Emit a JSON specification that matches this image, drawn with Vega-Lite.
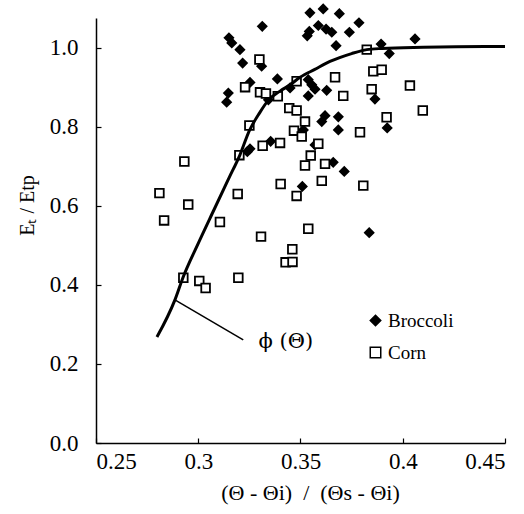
{
  "$schema": "https://vega.github.io/schema/vega-lite/v6.json",
  "width": 409,
  "height": 425,
  "autosize": {"type": "none"},
  "padding": {"left": 96, "top": 18, "right": 19, "bottom": 71},
  "background": "white",
  "config": {
    "view": {"stroke": null},
    "font": "Liberation Serif",
    "legend": {"labelFont": "Liberation Serif"}
  },
  "datasets": {
    "points": [
      {"x": 0.3313, "y": 1.054, "crop": "Broccoli"},
      {"x": 0.3150, "y": 1.025, "crop": "Broccoli"},
      {"x": 0.3164, "y": 1.012, "crop": "Broccoli"},
      {"x": 0.3204, "y": 0.995, "crop": "Broccoli"},
      {"x": 0.3217, "y": 0.961, "crop": "Broccoli"},
      {"x": 0.3310, "y": 0.953, "crop": "Broccoli"},
      {"x": 0.3387, "y": 0.921, "crop": "Broccoli"},
      {"x": 0.3253, "y": 0.912, "crop": "Broccoli"},
      {"x": 0.3147, "y": 0.885, "crop": "Broccoli"},
      {"x": 0.3139, "y": 0.862, "crop": "Broccoli"},
      {"x": 0.3343, "y": 0.868, "crop": "Broccoli"},
      {"x": 0.3449, "y": 0.898, "crop": "Broccoli"},
      {"x": 0.3354, "y": 0.763, "crop": "Broccoli"},
      {"x": 0.3253, "y": 0.744, "crop": "Broccoli"},
      {"x": 0.3240, "y": 0.737, "crop": "Broccoli"},
      {"x": 0.3546, "y": 1.088, "crop": "Broccoli"},
      {"x": 0.3611, "y": 1.098, "crop": "Broccoli"},
      {"x": 0.3690, "y": 1.086, "crop": "Broccoli"},
      {"x": 0.3786, "y": 1.063, "crop": "Broccoli"},
      {"x": 0.3587, "y": 1.056, "crop": "Broccoli"},
      {"x": 0.3543, "y": 1.041, "crop": "Broccoli"},
      {"x": 0.3533, "y": 1.030, "crop": "Broccoli"},
      {"x": 0.3625, "y": 1.047, "crop": "Broccoli"},
      {"x": 0.3653, "y": 1.039, "crop": "Broccoli"},
      {"x": 0.3739, "y": 1.039, "crop": "Broccoli"},
      {"x": 0.3674, "y": 1.005, "crop": "Broccoli"},
      {"x": 0.3894, "y": 1.009, "crop": "Broccoli"},
      {"x": 0.4060, "y": 1.022, "crop": "Broccoli"},
      {"x": 0.3934, "y": 0.985, "crop": "Broccoli"},
      {"x": 0.3538, "y": 0.919, "crop": "Broccoli"},
      {"x": 0.3555, "y": 0.906, "crop": "Broccoli"},
      {"x": 0.3571, "y": 0.895, "crop": "Broccoli"},
      {"x": 0.3628, "y": 0.892, "crop": "Broccoli"},
      {"x": 0.3538, "y": 0.878, "crop": "Broccoli"},
      {"x": 0.3864, "y": 0.870, "crop": "Broccoli"},
      {"x": 0.3620, "y": 0.828, "crop": "Broccoli"},
      {"x": 0.3604, "y": 0.813, "crop": "Broccoli"},
      {"x": 0.3685, "y": 0.825, "crop": "Broccoli"},
      {"x": 0.3514, "y": 0.792, "crop": "Broccoli"},
      {"x": 0.3685, "y": 0.792, "crop": "Broccoli"},
      {"x": 0.3924, "y": 0.797, "crop": "Broccoli"},
      {"x": 0.3571, "y": 0.754, "crop": "Broccoli"},
      {"x": 0.3660, "y": 0.710, "crop": "Broccoli"},
      {"x": 0.3714, "y": 0.687, "crop": "Broccoli"},
      {"x": 0.3509, "y": 0.649, "crop": "Broccoli"},
      {"x": 0.3836, "y": 0.532, "crop": "Broccoli"},
      {"x": 0.3299, "y": 0.970, "crop": "Corn"},
      {"x": 0.3229, "y": 0.900, "crop": "Corn"},
      {"x": 0.3302, "y": 0.887, "crop": "Corn"},
      {"x": 0.3331, "y": 0.884, "crop": "Corn"},
      {"x": 0.3389, "y": 0.877, "crop": "Corn"},
      {"x": 0.3481, "y": 0.915, "crop": "Corn"},
      {"x": 0.3445, "y": 0.847, "crop": "Corn"},
      {"x": 0.3481, "y": 0.841, "crop": "Corn"},
      {"x": 0.3250, "y": 0.803, "crop": "Corn"},
      {"x": 0.3400, "y": 0.759, "crop": "Corn"},
      {"x": 0.3315, "y": 0.752, "crop": "Corn"},
      {"x": 0.3468, "y": 0.790, "crop": "Corn"},
      {"x": 0.3201, "y": 0.728, "crop": "Corn"},
      {"x": 0.3824, "y": 0.995, "crop": "Corn"},
      {"x": 0.3856, "y": 0.940, "crop": "Corn"},
      {"x": 0.3897, "y": 0.944, "crop": "Corn"},
      {"x": 0.3669, "y": 0.925, "crop": "Corn"},
      {"x": 0.3848, "y": 0.895, "crop": "Corn"},
      {"x": 0.4035, "y": 0.904, "crop": "Corn"},
      {"x": 0.3709, "y": 0.878, "crop": "Corn"},
      {"x": 0.3522, "y": 0.813, "crop": "Corn"},
      {"x": 0.3921, "y": 0.824, "crop": "Corn"},
      {"x": 0.4098, "y": 0.841, "crop": "Corn"},
      {"x": 0.3791, "y": 0.786, "crop": "Corn"},
      {"x": 0.3506, "y": 0.775, "crop": "Corn"},
      {"x": 0.2932, "y": 0.712, "crop": "Corn"},
      {"x": 0.3403, "y": 0.655, "crop": "Corn"},
      {"x": 0.2810, "y": 0.632, "crop": "Corn"},
      {"x": 0.3193, "y": 0.630, "crop": "Corn"},
      {"x": 0.3481, "y": 0.625, "crop": "Corn"},
      {"x": 0.2951, "y": 0.603, "crop": "Corn"},
      {"x": 0.2833, "y": 0.563, "crop": "Corn"},
      {"x": 0.3106, "y": 0.559, "crop": "Corn"},
      {"x": 0.3307, "y": 0.522, "crop": "Corn"},
      {"x": 0.3460, "y": 0.490, "crop": "Corn"},
      {"x": 0.3427, "y": 0.457, "crop": "Corn"},
      {"x": 0.3461, "y": 0.458, "crop": "Corn"},
      {"x": 0.3196, "y": 0.418, "crop": "Corn"},
      {"x": 0.2927, "y": 0.418, "crop": "Corn"},
      {"x": 0.3005, "y": 0.410, "crop": "Corn"},
      {"x": 0.3036, "y": 0.392, "crop": "Corn"},
      {"x": 0.3550, "y": 0.727, "crop": "Corn"},
      {"x": 0.3522, "y": 0.702, "crop": "Corn"},
      {"x": 0.3620, "y": 0.706, "crop": "Corn"},
      {"x": 0.3604, "y": 0.663, "crop": "Corn"},
      {"x": 0.3807, "y": 0.651, "crop": "Corn"},
      {"x": 0.3538, "y": 0.542, "crop": "Corn"},
      {"x": 0.3587, "y": 0.757, "crop": "Corn"}
    ],
    "curve": [
      {"x": 0.2798, "y": 0.268},
      {"x": 0.2886, "y": 0.362},
      {"x": 0.2925, "y": 0.418},
      {"x": 0.3000, "y": 0.505},
      {"x": 0.3077, "y": 0.590},
      {"x": 0.3150, "y": 0.670},
      {"x": 0.3204, "y": 0.729},
      {"x": 0.3250, "y": 0.790},
      {"x": 0.3300, "y": 0.835},
      {"x": 0.3341, "y": 0.866},
      {"x": 0.3400, "y": 0.890},
      {"x": 0.3449, "y": 0.906},
      {"x": 0.3498, "y": 0.925},
      {"x": 0.3570, "y": 0.945},
      {"x": 0.3644, "y": 0.965},
      {"x": 0.3750, "y": 0.985},
      {"x": 0.3824, "y": 0.995},
      {"x": 0.3900, "y": 0.998},
      {"x": 0.4100, "y": 1.001},
      {"x": 0.4400, "y": 1.003},
      {"x": 0.4500, "y": 1.003}
    ],
    "pointer": [{"x": 0.2886, "y": 0.362, "x2": 0.3220, "y2": 0.261}],
    "label": [{"x": 0.3295, "y": 0.256, "text": "ϕ (Θ)"}]
  },
  "layer": [
    {
      "data": {"name": "points"},
      "mark": {"type": "point", "filled": true, "stroke": "black", "strokeWidth": 1.8, "opacity": 1},
      "encoding": {
        "x": {"field": "x", "type": "quantitative", "scale": {"domain": [0.25, 0.45], "nice": false, "zero": false},
          "axis": {"values": [0.25, 0.3, 0.35, 0.4, 0.45], "format": "~g", "grid": false, "domainColor": "black", "domainWidth": 1.5, "tickColor": "black", "tickWidth": 1.2, "tickSize": -5, "labelPadding": 12,
            "labelFont": "Liberation Serif", "labelFontSize": 23, "labelColor": "black",
            "title": "(Θ - Θi)\u00a0\u00a0/\u00a0\u00a0(Θs - Θi)", "titleFont": "Liberation Serif", "titleFontSize": 22, "titleFontWeight": "normal", "titleColor": "black", "titleX": 214, "titleY": 39, "titleBaseline": "top"}},
        "y": {"field": "y", "type": "quantitative", "scale": {"domain": [0, 1.075], "nice": false},
          "axis": {"values": [0, 0.2, 0.4, 0.6, 0.8, 1.0], "format": ".1f", "grid": false, "domainColor": "black", "domainWidth": 1.5, "tickColor": "black", "tickWidth": 1.2, "tickSize": -5, "labelPadding": 23,
            "labelFont": "Liberation Serif", "labelFontSize": 23, "labelColor": "black",
            "title": "Eₜ / Etp", "titleFont": "Liberation Serif", "titleFontSize": 20, "titleFontWeight": "normal", "titleColor": "black", "titleX": -59, "titleY": 187, "titleAngle": -90, "titleAlign": "center", "titleBaseline": "bottom"}},
        "shape": {"field": "crop", "type": "nominal", "scale": {"domain": ["Broccoli", "Corn"], "range": ["diamond", "square"]},
          "legend": {"title": null, "orient": "none", "legendX": 270, "legendY": 293, "labelFont": "Liberation Serif", "labelFontSize": 19, "labelColor": "black", "symbolSize": 110, "rowPadding": 12, "labelOffset": 3,
            "encode": {"symbols": {"update": {"stroke": {"value": "black"}, "strokeWidth": {"value": 1.8}}}}}},
        "fill": {"field": "crop", "type": "nominal", "scale": {"domain": ["Broccoli", "Corn"], "range": ["black", "white"]},
          "legend": {"title": null, "orient": "none", "legendX": 270, "legendY": 293, "labelFont": "Liberation Serif", "labelFontSize": 19, "labelColor": "black", "symbolSize": 110, "rowPadding": 12, "labelOffset": 3,
            "encode": {"symbols": {"update": {"stroke": {"value": "black"}, "strokeWidth": {"value": 1.8}}}}}},
        "size": {"value": 75}
      }
    },
    {
      "data": {"name": "curve"},
      "mark": {"type": "line", "color": "black", "strokeWidth": 3, "interpolate": "monotone"},
      "encoding": {
        "x": {"field": "x", "type": "quantitative"},
        "y": {"field": "y", "type": "quantitative"}
      }
    },
    {
      "data": {"name": "pointer"},
      "mark": {"type": "rule", "color": "black", "strokeWidth": 1.5},
      "encoding": {
        "x": {"field": "x", "type": "quantitative"},
        "y": {"field": "y", "type": "quantitative"},
        "x2": {"field": "x2"},
        "y2": {"field": "y2"}
      }
    },
    {
      "data": {"name": "label"},
      "mark": {"type": "text", "align": "left", "baseline": "middle", "fontSize": 21, "font": "DejaVu Serif", "color": "black"},
      "encoding": {
        "x": {"field": "x", "type": "quantitative"},
        "y": {"field": "y", "type": "quantitative"},
        "text": {"field": "text"}
      }
    }
  ]
}
